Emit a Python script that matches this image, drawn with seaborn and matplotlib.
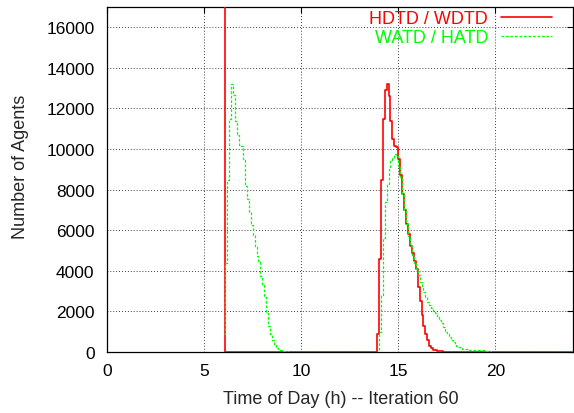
import numpy as np
import pandas as pd
import seaborn as sns
import matplotlib
matplotlib.use("Agg")
import matplotlib.pyplot as plt

# ---------------- data (agents per 0.1 h bin) ----------------
bin_width = 0.1
t_start, t_end = 6.0, 24.0

red_label = "HDTD / WDTD"
green_label = "WATD / HATD"

red_morning_start = 6.0
red_morning = [60000]  # spike clipped at the top of the plot

red_afternoon_start = 13.9
red_afternoon = [900, 4600, 8500, 11500, 12900, 13200, 12600, 11400, 10500, 10150,
                 10100, 9500, 8700, 7800, 7000, 6300, 5800, 5200, 4900, 4500,
                 4100, 3200, 2500, 1800, 1300, 900, 580, 300, 180, 120,
                 90, 60, 40, 25, 10]

green_morning_start = 6.0
green_morning = [900, 4400, 8500, 11500, 13200, 12650, 11400, 10700, 10200, 10150,
                 9500, 8200, 7550, 6900, 6250, 5750, 5150, 4750, 4450, 3750,
                 3300, 2700, 1900, 1300, 900, 600, 350, 180, 130, 80,
                 60, 40, 30, 20, 10]

green_afternoon_start = 14.0
green_afternoon = [1000, 2800, 5600, 7400, 8300, 9000, 9450, 9550, 9750, 9650,
                   9150, 8600, 7800, 7000, 6300, 5700, 5200, 4800, 4400, 4100,
                   3800, 3450, 3200, 2950, 2700, 2450, 2300, 2150, 2000, 1900,
                   1750, 1600, 1450, 1250, 1000, 880, 750, 600, 480, 400,
                   310, 250, 220, 170, 150, 130, 120, 115, 110, 105,
                   100, 100, 95, 90, 70, 40, 35, 30]

x_ticks = [0, 5, 10, 15, 20]
y_ticks = [0, 2000, 4000, 6000, 8000, 10000, 12000, 14000, 16000]

hours = np.round(np.arange(int(round(t_start * 10)), int(round(t_end * 10)) + 1) / 10, 1)


def build(segments):
    y = np.zeros(len(hours))
    for start, vals in segments:
        i = int(round((start - t_start) / bin_width))
        y[i:i + len(vals)] = vals
    return y


red = build([(red_morning_start, red_morning), (red_afternoon_start, red_afternoon)])
green = build([(green_morning_start, green_morning), (green_afternoon_start, green_afternoon)])

df_red = pd.DataFrame({"hour": hours, "agents": red})
df_green = pd.DataFrame({"hour": hours, "agents": green})

# ---------------- style ----------------
sns.set_style("white")
plt.rcParams["font.family"] = ["Liberation Sans", "DejaVu Sans"]
plt.rcParams["font.size"] = 13

fig = plt.figure(figsize=(5.74, 4.14), dpi=100)
ax = fig.add_axes([107 / 574, 61 / 414, 466 / 574, 345 / 414])

sns.lineplot(data=df_red, x="hour", y="agents", ax=ax, color="#ff0000",
             linewidth=1.2, drawstyle="steps-post", label=red_label,
             estimator=None, zorder=3)
sns.lineplot(data=df_green, x="hour", y="agents", ax=ax, color="#00ff00",
             linewidth=0.9, drawstyle="steps-post", label=green_label,
             estimator=None, linestyle=(0, (2.2, 1.4)), zorder=3.1)

ax.set_xlim(0, 24)
ax.set_ylim(0, 17000)
ax.set_xticks(x_ticks)
ax.set_yticks(y_ticks)
ax.set_xticklabels([str(v) for v in x_ticks])
ax.set_yticklabels([str(v) for v in y_ticks])

ax.grid(True, color="black", linewidth=0.6, linestyle=(0, (1, 2.5)))
for s in ax.spines.values():
    s.set_visible(True)
    s.set_color("black")
    s.set_linewidth(0.9)
    s.set_zorder(2.5)

ax.tick_params(axis="both", which="major", direction="in", length=4,
               width=0.8, top=True, right=True, labelsize=12.5, colors="black")
ax.tick_params(axis="y", pad=9)
ax.tick_params(axis="x", pad=8)

ax.set_xlabel("Time of Day (h) -- Iteration 60", fontsize=13)
ax.set_ylabel("Number of Agents", fontsize=13)
ax.xaxis.set_label_coords(0.502, -0.11)
ax.yaxis.set_label_coords(-0.168, 0.539)

leg = ax.legend(loc="upper right", bbox_to_anchor=(0.955, 0.99), frameon=False,
                markerfirst=False, labelcolor="linecolor", handlelength=2.8,
                handletextpad=0.75, borderpad=0, borderaxespad=0,
                labelspacing=0.1, fontsize=13)

fig.savefig("out.png", dpi=100)
